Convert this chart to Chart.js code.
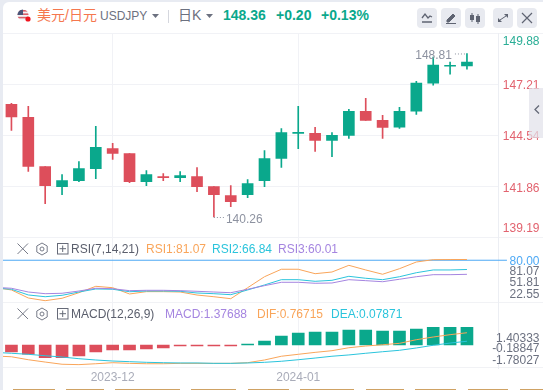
<!DOCTYPE html>
<html>
<head>
<meta charset="utf-8">
<script src="https://cdn.jsdelivr.net/npm/chart.js@4"></script>
<style>
html, body { margin: 0; padding: 0; width: 543px; height: 390px; overflow: hidden; background: #e8ebf2; font-family: "Liberation Sans", "Noto Sans CJK SC", sans-serif; }
#panel { position: absolute; left: 3px; top: 2px; width: 540px; height: 388px; background: #fff; border-top-left-radius: 6px; }
canvas { position: absolute; left: 0; }
.t { position: absolute; white-space: nowrap; line-height: 16px; font-size: 12px; }
.b { font-weight: bold; font-size: 14px; color: #0aa88c; top: 7px; }
.sep { position: absolute; left: 3px; width: 540px; height: 1px; background: #f1f2f5; }
.btn { position: absolute; top: 8px; width: 20px; height: 20px; background: #e8eaf0; border-radius: 4px; }
svg { position: absolute; overflow: visible; }
.tan { position: absolute; top: 389px; height: 1px; background: #cfa264; }
</style>
</head>
<body>
<div id="panel"></div>
<div class="sep" style="top:33px"></div>
<div class="sep" style="top:237px"></div>
<div class="sep" style="top:302px"></div>
<div class="sep" style="top:367px"></div>

<canvas id="priceChart" style="top:33px" width="543" height="205"></canvas>
<canvas id="rsiChart" style="top:238px" width="543" height="64"></canvas>
<canvas id="macdChart" style="top:302px" width="543" height="88"></canvas>

<!-- header -->
<svg style="left:17px;top:9px" width="14" height="14" viewBox="0 0 14 14">
  <clipPath id="fc"><circle cx="6" cy="6" r="5.5"/></clipPath>
  <g clip-path="url(#fc)">
    <rect width="12" height="12" fill="#f3f3f5"/>
    <rect y="1" width="12" height="1.6" fill="#d9606a"/><rect y="4.4" width="12" height="1.6" fill="#d9606a"/>
    <rect y="7.8" width="12" height="1.6" fill="#d9606a"/>
    <rect width="6" height="6" fill="#4a5578"/>
  </g>
  <circle cx="11" cy="10" r="2.6" fill="#f0141e"/>
</svg>
<span class="t" style="left:37px;top:7px;font-size:14px;color:#f5774e">美元/日元</span>
<span class="t" style="left:100px;top:8px;color:#6c7180">USDJPY</span>
<svg style="left:152px;top:14px" width="7" height="4"><path d="M0 0H7L3.5 4Z" fill="#6c7180"/></svg>
<div style="position:absolute;left:168px;top:10px;width:1px;height:13px;background:#d5d7de"></div>
<span class="t" style="left:178px;top:7px;font-size:14px;color:#6c7180">日K</span>
<svg style="left:206px;top:14px" width="7" height="4"><path d="M0 0H7L3.5 4Z" fill="#6c7180"/></svg>
<span class="t b" style="left:223px">148.36</span>
<span class="t b" style="left:276px">+0.20</span>
<span class="t b" style="left:321px">+0.13%</span>

<div class="btn" style="left:417px"></div>
<div class="btn" style="left:441px"></div>
<div class="btn" style="left:465px"></div>
<div class="btn" style="left:493px"></div>
<div class="btn" style="left:517px"></div>
<svg style="left:417px;top:8px" width="20" height="20"><path d="M5 10L8 6L11 10L13 8L15 9M5 14H15" fill="none" stroke="#5f6472" stroke-width="1.3"/></svg>
<svg style="left:441px;top:8px" width="20" height="20"><path d="M6 12L12 6L14 8L8 14H6ZM5 15.5H15" fill="#5f6472" stroke="#5f6472"/></svg>
<svg style="left:465px;top:8px" width="20" height="20"><path d="M7 5V14M13 6V16" stroke="#5f6472"/><rect x="5" y="7" width="4" height="5" fill="#5f6472"/><rect x="11" y="8" width="4" height="6" fill="#5f6472"/></svg>
<svg style="left:493px;top:8px" width="20" height="20"><path d="M11 6H15V10ZM9 14H5V10Z" fill="#5f6472"/><path d="M13 8L7 12" stroke="#5f6472"/></svg>
<svg style="left:517px;top:8px" width="20" height="20"><path d="M5 5L15 15M15 5L5 15" stroke="#5f6472" stroke-width="1.2"/></svg>

<!-- collapse tab -->
<div style="position:absolute;left:529px;top:88px;width:14px;height:50px;background:rgba(226,226,234,.72)"></div>
<svg style="left:534px;top:105px" width="6" height="9"><path d="M5 0.5L1 4.5L5 8.5" fill="none" stroke="#666a78" stroke-width="1.3"/></svg>

<!-- RSI row -->
<svg style="left:17px;top:243px" width="12" height="12"><path d="M0.5 0.5L11 11M11 0.5L0.5 11" stroke="#777b88"/></svg>
<svg style="left:36px;top:243px" width="12" height="12"><path d="M6 0L11.2 3V9L6 12L0.8 9V3Z" fill="none" stroke="#777b88"/><circle cx="6" cy="6" r="2" fill="none" stroke="#777b88"/></svg>
<svg style="left:57px;top:243px" width="12" height="12"><rect x="0.5" y="0.5" width="10.5" height="10.5" fill="none" stroke="#666a78"/><path d="M5.7 2.5V9M2.5 5.7H9" stroke="#666a78"/></svg>
<span class="t" style="left:71px;top:241px;color:#5a5e6c">RSI(7,14,21)</span>
<span class="t" style="left:146px;top:241px;color:#f9a55a">RSI1:81.07</span>
<span class="t" style="left:212px;top:241px;color:#2bc4dc">RSI2:66.84</span>
<span class="t" style="left:278px;top:241px;color:#a585e0">RSI3:60.01</span>

<!-- MACD row -->
<svg style="left:17px;top:308px" width="12" height="12"><path d="M0.5 0.5L11 11M11 0.5L0.5 11" stroke="#777b88"/></svg>
<svg style="left:36px;top:308px" width="12" height="12"><path d="M6 0L11.2 3V9L6 12L0.8 9V3Z" fill="none" stroke="#777b88"/><circle cx="6" cy="6" r="2" fill="none" stroke="#777b88"/></svg>
<svg style="left:57px;top:308px" width="12" height="12"><rect x="0.5" y="0.5" width="10.5" height="10.5" fill="none" stroke="#666a78"/><path d="M5.7 2.5V9M2.5 5.7H9" stroke="#666a78"/></svg>
<span class="t" style="left:71px;top:306px;color:#5a5e6c">MACD(12,26,9)</span>
<span class="t" style="left:165px;top:306px;color:#a585e0">MACD:1.37688</span>
<span class="t" style="left:257px;top:306px;color:#f9a55a">DIF:0.76715</span>
<span class="t" style="left:331px;top:306px;color:#2bc4dc">DEA:0.07871</span>

<!-- edge of the next block -->
<div class="tan" style="left:13px;width:42px"></div>
<div class="tan" style="left:66px;width:38px"></div>
<div class="tan" style="left:115px;width:65px"></div>
<div class="tan" style="left:191px;width:45px"></div>
<div class="tan" style="left:248px;width:41px"></div>
<div class="tan" style="left:300px;width:54px"></div>
<div class="tan" style="left:366px;width:38px"></div>
<div class="tan" style="left:415px;width:41px"></div>
<div class="tan" style="left:468px;width:40px"></div>
<div class="tan" style="left:520px;width:23px"></div>

<script>
// daily candles
const opens  = [146.15,145.47,142.90,141.85,142.16,142.79,143.84,143.58,142.11,142.37,142.32,142.37,141.85,141.38,141.43,142.16,143.32,144.63,144.63,144.26,144.53,145.79,145.31,144.96,145.79,147.26,148.14,148.16];
const closes = [145.49,142.91,141.90,142.16,142.79,143.90,143.58,142.11,142.48,142.32,142.43,141.85,141.43,141.06,142.01,143.32,144.68,144.68,144.26,144.53,145.79,145.31,144.95,145.79,147.26,148.20,148.16,148.36];
const highs  = [146.21,146.05,142.90,142.48,143.16,145.00,144.11,143.58,142.69,142.53,142.64,142.85,141.85,141.90,142.22,143.74,144.89,146.05,144.95,144.68,145.89,146.47,145.58,146.00,147.36,148.62,148.36,148.81];
const lows   = [144.79,142.64,140.96,141.43,142.11,142.27,143.27,142.06,141.90,142.16,142.11,141.59,140.26,140.80,141.27,141.85,142.85,143.84,143.69,143.42,144.37,145.31,144.37,144.89,145.63,147.15,147.73,147.99];

// indicator lines start one candle before the first visible one
const rsi1 = [41.3,37.8,26.4,22.55,26.0,33.9,43.0,41.0,32.1,35.4,35.4,34.9,30.6,28.2,25.4,41.0,56.6,67.2,67.2,60.9,63.3,72.8,66.2,60.1,68.0,77.5,80.8,81.0,81.07];
const rsi2 = [40.6,38.8,30.7,28.2,30.2,34.9,39.2,38.8,35.3,36.3,36.3,35.9,33.5,32.5,31.1,37.8,44.9,52.4,52.4,50.1,51.5,57.2,54.4,52.4,56.6,62.3,66.2,66.2,66.84];
const rsi3 = [41.6,40.2,34.9,32.5,33.1,36.3,40.2,39.6,36.8,37.3,37.3,36.8,35.9,34.9,33.9,38.8,43.9,48.7,48.7,47.3,47.7,52.4,51.0,49.5,53.0,56.6,59.5,59.5,60.01];
const rsiLevel = 80;

const macdBars = [-0.54,-0.70,-0.98,-0.98,-0.85,-0.54,-0.39,-0.39,-0.31,-0.23,-0.06,-0.06,-0.06,-0.06,0.06,0.31,0.70,0.93,1.01,1.01,1.16,1.16,1.08,1.08,1.24,1.37,1.37,1.37688];
const dif = [-0.85,-0.91,-1.14,-1.32,-1.49,-1.52,-1.45,-1.37,-1.42,-1.45,-1.45,-1.42,-1.42,-1.42,-1.42,-1.37,-1.16,-0.87,-0.72,-0.57,-0.44,-0.21,-0.08,0.02,0.13,0.41,0.62,0.80,0.95];
const dea = [-0.57,-0.64,-0.72,-0.83,-0.93,-1.06,-1.16,-1.24,-1.29,-1.34,-1.37,-1.39,-1.39,-1.42,-1.42,-1.39,-1.34,-1.26,-1.14,-1.01,-0.87,-0.77,-0.64,-0.52,-0.41,-0.23,-0.02,0.15,0.29];

const priceTicks = [149.88,147.21,144.54,141.86,139.19];
const rsiTicks = [80,81.07,51.81,22.55];
const macdTicks = [1.40333,-0.18847,-1.78027];
const monthTicks = [6,17];
const monthLabels = ['2023-12','2024-01'];

const UP = '#0aa88c';
const DOWN = '#dd4e5b';
const ORANGE = '#f9a55a';
const CYAN = '#2bc4dc';
const PURPLE = '#a585e0';
const LEVEL = '#4da9f5';
const GRID = '#f1f2f6';
const FONT = '"Liberation Sans", sans-serif';

// x runs in candle indexes so all three panes line up
const X_MIN = -0.5;
const X_MAX = 28.87;
const Y_AXIS_WIDTH = 44.5;
const LABEL_RIGHT = 41; // right edge of the y labels, from the pane border

// stop label sizes from pushing the plot area in
function noScalePadding(s) {
    s.paddingTop = 0;
    s.paddingBottom = 0;
    s.paddingLeft = 0;
    s.paddingRight = 0;
}

function xAxis(showLabels) {
    return {
        type: 'linear',
        min: X_MIN,
        max: X_MAX,
        offset: false,
        afterBuildTicks: s => { s.ticks = monthTicks.map(v => ({ value: v })); },
        afterFit: s => { s.height = showLabels ? 22 : 0; noScalePadding(s); },
        border: { display: false },
        grid: { color: GRID, offset: false, drawTicks: false },
        ticks: {
            display: showLabels,
            autoSkip: false,
            maxRotation: 0,
            padding: 2,
            color: '#a9acb9',
            font: { family: FONT, size: 12 },
            callback: (v, i) => monthLabels[i]
        }
    };
}

// the site pushes edge labels into the pane, so shifts move a label off its tick
// mirror keeps the long macd labels from being clipped at the pane border
function yAxis(o) {
    return {
        type: 'linear',
        position: 'right',
        min: o.min,
        max: o.max,
        afterBuildTicks: s => { s.ticks = o.ticks.map(v => ({ value: v })); },
        afterFit: s => { s.width = Y_AXIS_WIDTH; noScalePadding(s); },
        border: { display: true, color: '#eceef3' },
        grid: { display: !!o.grid, color: GRID, drawTicks: false },
        ticks: {
            autoSkip: false,
            mirror: true,
            crossAlign: 'near',
            padding: LABEL_RIGHT,
            labelOffset: o.labelOffset,
            color: o.color,
            font: ctx => {
                const shift = Math.abs(o.shifts[ctx.index] || 0);
                return { family: FONT, size: 12, lineHeight: shift ? shift * 2 / 12 : 1.2 };
            },
            callback: (v, i) => {
                const text = v.toFixed(o.digits);
                if (o.shifts[i] > 0) return ['', text];
                if (o.shifts[i] < 0) return [text, ''];
                return text;
            }
        }
    };
}

function linePoints(values) {
    return values.map((v, i) => ({ x: i - 1, y: v }));
}

function lineSet(values, color, order) {
    return {
        type: 'line',
        data: linePoints(values),
        borderColor: color,
        borderWidth: 1,
        pointRadius: 0,
        tension: 0,
        order: order
    };
}

// high and low notes beside the extreme candles
const extremeNotes = {
    id: 'extremeNotes',
    afterDatasetsDraw(chart) {
        const { ctx, scales } = chart;
        const hi = highs.indexOf(Math.max(...highs));
        const lo = lows.indexOf(Math.min(...lows));
        const hx = scales.x.getPixelForValue(hi), hy = scales.y.getPixelForValue(highs[hi]);
        const lx = scales.x.getPixelForValue(lo), ly = scales.y.getPixelForValue(lows[lo]);
        ctx.save();
        ctx.strokeStyle = '#8d92a0';
        ctx.fillStyle = '#8d92a0';
        ctx.lineWidth = 1;
        ctx.setLineDash([1, 2]);
        ctx.font = '12px ' + FONT;
        ctx.textBaseline = 'middle';
        ctx.beginPath();
        ctx.moveTo(hx - 12, hy + 0.5);
        ctx.lineTo(hx, hy + 0.5);
        ctx.moveTo(lx, ly + 0.5);
        ctx.lineTo(lx + 10, ly + 0.5);
        ctx.stroke();
        ctx.textAlign = 'right';
        ctx.fillText(highs[hi].toFixed(2), hx - 15, hy + 2.5);
        ctx.textAlign = 'left';
        ctx.fillText(lows[lo].toFixed(2), lx + 12, ly + 2.5);
        ctx.restore();
    }
};

function baseOptions(scales, bottom) {
    return {
        responsive: false,
        animation: false,
        layout: { autoPadding: false, padding: { left: 3, top: 0, right: 0, bottom: bottom } },
        plugins: { legend: { display: false }, tooltip: { enabled: false } },
        scales: scales
    };
}

const candleColors = closes.map((c, i) => c >= opens[i] ? UP : DOWN);

new Chart(document.getElementById('priceChart'), {
    type: 'bar',
    data: {
        datasets: [
            {
                data: closes.map((c, i) => ({ x: i, y: [opens[i], c] })),
                backgroundColor: candleColors,
                barThickness: 11,
                minBarLength: 1,
                grouped: false,
                order: 0
            },
            {
                data: highs.map((h, i) => ({ x: i, y: [lows[i], h] })),
                backgroundColor: candleColors,
                barThickness: 1,
                grouped: false,
                order: 1
            }
        ]
    },
    options: baseOptions({
        x: xAxis(false),
        y: yAxis({
            min: 139.19, max: 149.88, ticks: priceTicks, digits: 2, labelOffset: 2, grid: true,
            shifts: [6.5, 0, 0, 0, -10.5],
            color: ctx => ctx.tick.value > closes[closes.length - 1] ? '#2aae96' : '#e2636f'
        })
    }, 0.5),
    plugins: [extremeNotes]
});

new Chart(document.getElementById('rsiChart'), {
    type: 'line',
    data: {
        datasets: [
            lineSet(rsi3, PURPLE, 0),
            lineSet(rsi2, CYAN, 1),
            lineSet(rsi1, ORANGE, 2),
            {
                type: 'line',
                data: [{ x: X_MIN, y: rsiLevel }, { x: X_MAX + 0.5, y: rsiLevel }],
                borderColor: LEVEL,
                borderWidth: 1,
                pointRadius: 0,
                clip: false,
                order: 3
            }
        ]
    },
    options: baseOptions({
        x: xAxis(false),
        y: yAxis({
            min: 20.7, max: 111.6, ticks: rsiTicks, digits: 2, labelOffset: 1,
            shifts: [0, 10.8, 1.2, -7],
            color: ctx => ctx.tick.value === rsiLevel ? LEVEL : '#6c7180'
        })
    }, 0)
});

new Chart(document.getElementById('macdChart'), {
    type: 'bar',
    data: {
        datasets: [
            lineSet(dea, CYAN, 0),
            lineSet(dif, ORANGE, 1),
            {
                data: macdBars.map((v, i) => ({ x: i, y: v })),
                backgroundColor: macdBars.map(v => v >= 0 ? UP : DOWN),
                barThickness: 12,
                minBarLength: 1,
                grouped: false,
                order: 2
            }
        ]
    },
    options: baseOptions({
        x: xAxis(true),
        y: yAxis({
            min: -1.78027, max: 3.33, ticks: macdTicks, digits: 5, labelOffset: 1,
            shifts: [10.5, 0, -8],
            color: '#6c7180'
        })
    }, 0)
});
</script>
</body>
</html>
